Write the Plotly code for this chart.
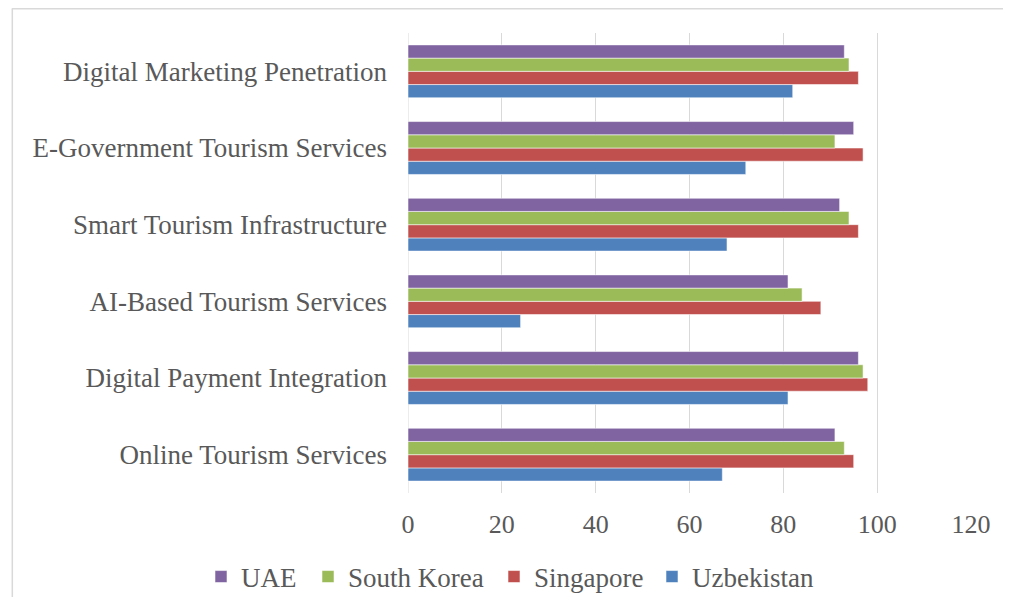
import plotly.graph_objects as go

categories = [
    "Online Tourism Services",
    "Digital Payment Integration",
    "AI-Based Tourism Services",
    "Smart Tourism Infrastructure",
    "E-Government Tourism Services",
    "Digital Marketing Penetration",
]
uzbekistan = [67, 81, 24, 68, 72, 82]
singapore = [95, 98, 88, 96, 97, 96]
south_korea = [93, 97, 84, 94, 91, 94]
uae = [91, 96, 81, 92, 95, 93]
x_ticks = [0, 20, 40, 60, 80, 100, 120]

series_names = ["Uzbekistan", "Singapore", "South Korea", "UAE"]
series_values = [uzbekistan, singapore, south_korea, uae]
series_colors = ["#4F81BD", "#C0504D", "#9BBB59", "#8064A2"]
# left edge of each legend label (figure px)
legend_text_x = [689, 531, 345, 238]

FONT = "Liberation Serif, Times New Roman, serif"
TXT = "#595959"

# page has an 8px body margin; figure sized so it fills the window exactly
W, H = 995, 589
L, T = 400, 25
PW, PH = 567, 460

fig = go.Figure()
legend_layouts = {}
for i, (name, vals, col) in enumerate(zip(series_names, series_values, series_colors)):
    lid = "legend" if i == 0 else f"legend{i + 1}"
    fig.add_trace(go.Bar(
        y=categories, x=vals, name=name, orientation="h",
        marker=dict(color=col, line=dict(color="rgba(255,255,255,0.55)", width=1)),
        legend=lid,
    ))
    legend_layouts[lid] = dict(
        orientation="h", xref="container", yref="container",
        x=(legend_text_x[i] - 45) / W, xanchor="left",
        y=1 - 569 / H, yanchor="middle",
        font=dict(family=FONT, size=27, color=TXT),
        itemwidth=30, bgcolor="rgba(0,0,0,0)", borderwidth=0,
    )

def px(fx):
    return (fx - L) / PW

def py(fy):
    return (T + PH - fy) / PH

fig.update_layout(
    width=W, height=H,
    margin=dict(l=L, r=W - L - PW, t=T, b=H - T - PH),
    paper_bgcolor="white", plot_bgcolor="white",
    barmode="group", bargap=0.31, bargroupgap=0,
    font=dict(family=FONT, color=TXT, size=27),
    showlegend=True,
    xaxis=dict(
        range=[0, 120], tickvals=x_ticks, showgrid=True,
        gridcolor="#D9D9D9", gridwidth=1, zeroline=False,
        showline=False, ticks="", ticklabelstandoff=13,
        tickfont=dict(family=FONT, size=26, color=TXT),
    ),
    yaxis=dict(
        categoryorder="array", categoryarray=categories,
        showgrid=False, zeroline=False, showline=False, ticks="",
        ticklabelstandoff=20,
        tickfont=dict(family=FONT, size=27, color=TXT),
    ),
    shapes=[
        dict(type="line", xref="paper", yref="paper",
             x0=px(1), x1=px(W + 5), y0=py(0.8), y1=py(0.8),
             line=dict(color="#D9D9D9", width=1.5)),
        dict(type="line", xref="paper", yref="paper",
             x0=px(1.5), x1=px(1.5), y0=py(0.8), y1=py(H + 5),
             line=dict(color="#D9D9D9", width=1.5)),
        dict(type="line", xref="x", yref="paper", x0=0, x1=0, y0=0, y1=1,
             line=dict(color="#D9D9D9", width=1), layer="below"),
    ],
)
fig.update_layout(**legend_layouts)

fig.write_html("out.html")
